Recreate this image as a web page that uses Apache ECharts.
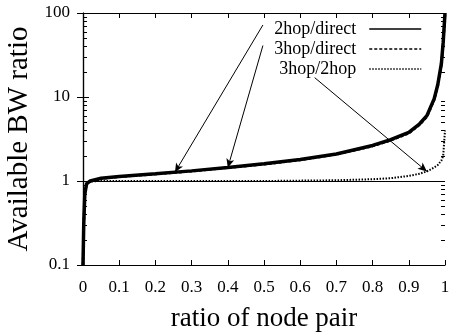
<!DOCTYPE html>
<html><head><meta charset="utf-8">
<script src="https://cdn.jsdelivr.net/npm/echarts@6/dist/echarts.min.js"></script>
<style>html,body{margin:0;padding:0;background:#fff}#c{width:452px;height:332px}</style>
</head><body><div id="c"></div>
<script>
var xs      = [0, 0.002, 0.005, 0.01, 0.02, 0.05, 0.1, 0.2, 0.3, 0.4, 0.5, 0.6, 0.7, 0.8, 0.85, 0.9, 0.93, 0.95, 0.97, 0.98, 0.99, 0.995, 1.0];
var hop2dir = [0.1, 0.3, 0.7, 0.93, 1.0, 1.08, 1.13, 1.22, 1.32, 1.45, 1.6, 1.8, 2.1, 2.65, 3.1, 3.8, 4.8, 6.0, 9.5, 14, 25, 45, 100];
var hop3dir = [0.1, 0.3, 0.7, 0.92, 0.99, 1.07, 1.12, 1.21, 1.31, 1.44, 1.58, 1.78, 2.08, 2.6, 3.05, 3.7, 4.7, 5.8, 9.2, 13.5, 24, 42, 95];
var hop3hop2= [0.1, 0.3, 0.7, 0.92, 0.99, 1.0, 1.0, 1.0, 1.0, 1.0, 1.0, 1.01, 1.02, 1.05, 1.08, 1.15, 1.22, 1.3, 1.45, 1.55, 1.75, 2.0, 4.0];
var seriesNames = ['2hop/direct', '3hop/direct', '3hop/2hop'];
var yTicks = [0.1, 1, 10, 100];
var minorTickVals = [0.2,0.3,0.4,0.5,0.6,0.7,0.8,0.9,2,3,4,5,6,7,8,9,20,30,40,50,60,70,80,90];
// annotation arrows: [label anchor (x,y), tip on curve (x,y)] in data units
var arrows = [
  [[0.497, 72], [0.254, 1.27]],
  [[0.497, 41], [0.400, 1.44]],
  [[0.640, 17], [0.950, 1.30]]
];

function pairs(a){ return xs.map(function(x,i){ return [x, a[i]]; }); }
var font = 'Liberation Serif, Times New Roman, serif';
var chart = echarts.init(document.getElementById('c'), null, {renderer:'canvas'});

var arrowData = arrows.map(function(a){ return [{coord:a[0]},{coord:a[1]}]; });

function legendFor(name, top){
  return {
    data:[name], right:30, top:top, orient:'vertical', itemWidth:52, itemHeight:14,
    selectedMode:false, padding:0,
    lineStyle:{width:1.5},
    itemStyle:{opacity:0},
    textStyle:{fontFamily:font, fontSize:18, color:'#000', padding:[0,8,0,0]},
    align:'right'
  };
}

chart.setOption({
  animation:false,
  legend:[legendFor(seriesNames[0],20), legendFor(seriesNames[1],40), legendFor(seriesNames[2],60)],
  grid:{left:83, right:7, top:13, bottom:67, containLabel:false, outerBoundsMode:'none'},
  xAxis:[{
    type:'value', min:0, max:1, interval:0.1,
    axisLine:{lineStyle:{color:'#000', width:1.2}},
    axisTick:{inside:true, length:5, lineStyle:{color:'#000'}},
    axisLabel:{fontFamily:font, fontSize:17, color:'#000', margin:14},
    splitLine:{show:false},
    name:'ratio of node pair', nameLocation:'middle', nameGap:40,
    nameTextStyle:{fontFamily:font, fontSize:27, color:'#000'}
  },{
    type:'value', min:0, max:1, interval:0.1, position:'top',
    axisLine:{show:true, lineStyle:{color:'#000', width:1.2}},
    axisTick:{inside:true, length:5, lineStyle:{color:'#000'}},
    axisLabel:{show:false}, splitLine:{show:false}
  }],
  yAxis:[{
    type:'log', logBase:10, min:0.1, max:100,
    axisLine:{show:true, lineStyle:{color:'#000', width:1.2}},
    axisTick:{inside:true, length:6, lineStyle:{color:'#000'}},
    axisLabel:{fontFamily:font, fontSize:17, color:'#000', margin:13,
      formatter:function(v){ return yTicks.indexOf(+v.toPrecision(3))>=0 ? String(+v.toPrecision(3)) : ''; }},
    splitLine:{show:false},
    name:'Available BW ratio', nameLocation:'middle', nameGap:47,
    nameTextStyle:{fontFamily:font, fontSize:29, color:'#000'}
  },{
    type:'log', logBase:10, min:0.1, max:100, position:'right',
    axisLine:{show:true, lineStyle:{color:'#000', width:1.2}},
    axisTick:{inside:true, length:6, lineStyle:{color:'#000'}},
    axisLabel:{show:false}, splitLine:{show:false}
  }],
  series:[
    {
      name:seriesNames[0], type:'line', data:pairs(hop2dir), symbol:'none', smooth:false,
      lineStyle:{color:'#000', width:3.5}, itemStyle:{color:'#000'}, z:5,
      markLine:{
        silent:true, symbol:['none','none'], label:{show:false},
        lineStyle:{color:'#000', width:1, type:'solid'},
        data:[{yAxis:1}]
      }
    },
    {
      name:seriesNames[1], type:'line', data:pairs(hop3dir), symbol:'none',
      lineStyle:{color:'#000', width:2.5, type:[3,2]}, itemStyle:{color:'#000'}, z:4,
      markLine:{
        silent:true, symbol:['none','arrow'], symbolSize:[6,9], label:{show:false},
        lineStyle:{color:'#000', width:1, type:'solid'},
        data:arrowData
      }
    },
    {
      name:seriesNames[2], type:'line', data:pairs(hop3hop2), symbol:'none',
      lineStyle:{color:'#000', width:2, type:[1.5,1.5]}, itemStyle:{color:'#000'}, z:3
    },
    {
      type:'custom', xAxisIndex:0, yAxisIndex:0, silent:true, z:6, clip:false,
      encode:{x:0, y:1},
      data:minorTickVals.map(function(v){ return [0, v]; }),
      renderItem:function(params, api){
        var p = api.coord([0, api.value(1)]);
        var y = Math.round(p[1]) + 0.5;
        var xl = p[0], xr = api.coord([1, api.value(1)])[0];
        return {type:'group', children:[
          {type:'line', shape:{x1:xl, y1:y, x2:xl+4, y2:y}, style:{stroke:'#000', lineWidth:1}},
          {type:'line', shape:{x1:xr, y1:y, x2:xr-4, y2:y}, style:{stroke:'#000', lineWidth:1}}
        ]};
      }
    }
  ]
});
</script></body></html>
